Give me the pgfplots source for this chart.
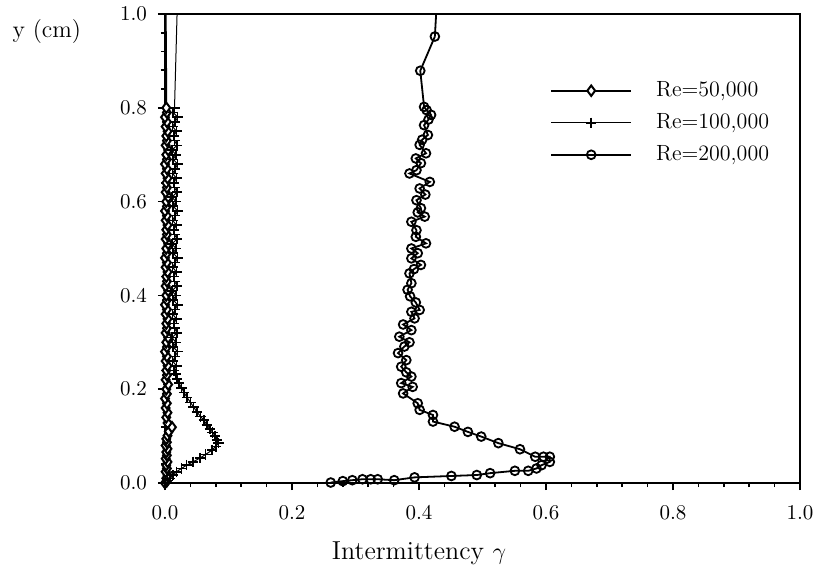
\documentclass[border=0pt]{standalone}
\usepackage{pgfplots}
\pgfplotsset{compat=1.18}

% Re = 50,000 (diamonds)
\pgfplotstableread{
x y
0.000 0.000
0.003 0.004
0.002 0.010
0.004 0.017
0.001 0.024
0.003 0.031
0.002 0.038
0.004 0.045
0.001 0.052
0.003 0.059
0.002 0.066
0.004 0.073
0.001 0.080
0.003 0.087
0.002 0.094
0.004 0.101
0.006 0.110
0.011 0.119
0.004 0.128
0.002 0.140
0.004 0.150
0.001 0.160
0.003 0.170
0.000 0.180
0.003 0.190
0.002 0.200
0.005 0.210
0.001 0.220
0.003 0.230
0.002 0.240
0.004 0.250
0.001 0.260
0.003 0.270
0.000 0.280
0.003 0.290
0.002 0.300
0.005 0.310
0.001 0.320
0.003 0.330
0.002 0.340
0.004 0.350
0.001 0.360
0.003 0.370
0.000 0.380
0.003 0.390
0.002 0.400
0.005 0.410
0.001 0.420
0.003 0.430
0.002 0.440
0.004 0.450
0.001 0.460
0.003 0.470
0.000 0.480
0.003 0.490
0.002 0.500
0.005 0.510
0.001 0.520
0.003 0.530
0.002 0.540
0.004 0.550
0.001 0.560
0.003 0.570
0.000 0.580
0.003 0.590
0.002 0.600
0.005 0.610
0.001 0.620
0.003 0.630
0.002 0.640
0.004 0.650
0.001 0.660
0.003 0.670
0.000 0.680
0.003 0.690
0.002 0.700
0.005 0.710
0.001 0.720
0.003 0.730
0.002 0.740
0.004 0.750
0.001 0.760
0.003 0.770
0.000 0.780
0.003 0.790
0.002 0.800
}\relow

% Re = 100,000 (plus)
\pgfplotstableread{
x y
0.000 0.000
0.004 0.005
0.008 0.010
0.013 0.017
0.018 0.024
0.026 0.031
0.034 0.038
0.044 0.045
0.055 0.053
0.064 0.061
0.074 0.070
0.080 0.078
0.084 0.085
0.082 0.092
0.079 0.100
0.075 0.108
0.071 0.115
0.066 0.124
0.061 0.134
0.056 0.142
0.050 0.152
0.045 0.162
0.040 0.172
0.035 0.182
0.030 0.193
0.026 0.203
0.022 0.213
0.019 0.222
0.017 0.232
0.014 0.240
0.018 0.250
0.012 0.260
0.016 0.270
0.020 0.280
0.013 0.290
0.017 0.300
0.011 0.310
0.019 0.320
0.015 0.330
0.014 0.340
0.018 0.350
0.012 0.360
0.016 0.370
0.020 0.380
0.013 0.390
0.017 0.400
0.011 0.410
0.019 0.420
0.015 0.430
0.014 0.440
0.018 0.450
0.012 0.460
0.016 0.470
0.020 0.480
0.013 0.490
0.017 0.500
0.011 0.510
0.019 0.520
0.015 0.530
0.014 0.540
0.018 0.550
0.012 0.560
0.016 0.570
0.020 0.580
0.013 0.590
0.017 0.600
0.011 0.610
0.019 0.620
0.015 0.630
0.014 0.640
0.018 0.650
0.012 0.660
0.016 0.670
0.020 0.680
0.013 0.690
0.017 0.700
0.011 0.710
0.019 0.720
0.015 0.730
0.014 0.740
0.018 0.750
0.012 0.760
0.016 0.770
0.020 0.780
0.013 0.790
0.015 0.800
}\rehigh

% Re = 200,000 (circles)
\pgfplotstableread{
x y
0.261 0.001
0.280 0.004
0.295 0.006
0.311 0.008
0.324 0.008
0.335 0.008
0.361 0.006
0.393 0.012
0.451 0.015
0.491 0.017
0.512 0.021
0.551 0.026
0.572 0.026
0.585 0.031
0.593 0.038
0.606 0.045
0.606 0.056
0.596 0.056
0.583 0.056
0.559 0.072
0.525 0.085
0.498 0.099
0.477 0.109
0.456 0.120
0.422 0.131
0.422 0.145
0.401 0.156
0.398 0.170
0.375 0.191
0.390 0.205
0.372 0.213
0.388 0.227
0.380 0.236
0.372 0.248
0.380 0.262
0.367 0.277
0.377 0.291
0.385 0.300
0.369 0.312
0.388 0.326
0.375 0.338
0.393 0.351
0.388 0.365
0.401 0.369
0.395 0.385
0.386 0.398
0.382 0.412
0.388 0.426
0.385 0.447
0.392 0.456
0.403 0.465
0.388 0.479
0.398 0.490
0.388 0.500
0.411 0.511
0.395 0.525
0.396 0.539
0.388 0.557
0.409 0.568
0.398 0.577
0.403 0.586
0.396 0.603
0.410 0.615
0.401 0.628
0.417 0.642
0.385 0.660
0.396 0.667
0.403 0.682
0.395 0.692
0.411 0.703
0.401 0.721
0.405 0.732
0.414 0.742
0.408 0.763
0.415 0.775
0.419 0.785
0.412 0.795
0.408 0.802
0.402 0.879
0.425 0.952
}\reveryhigh

\begin{document}
\begin{tikzpicture}
\begin{axis}[
    scale only axis,
    width=317.5pt, height=234.5pt,
    xmin=0, xmax=1, ymin=0, ymax=1,
    xtick={0,0.2,0.4,0.6,0.8,1.0},
    ytick={0,0.2,0.4,0.6,0.8,1.0},
    xticklabels={0.0,0.2,0.4,0.6,0.8,1.0},
    yticklabels={0.0,0.2,0.4,0.6,0.8,1.0},
    minor tick num=4,
    tick align=outside,
    xtick pos=bottom, ytick pos=left,
    major tick length=3.5pt, minor tick length=2pt,
    every tick/.style={black, line width=0.8pt},
    axis line style={line width=1.2pt},
    tick label style={font=\fontsize{10.5}{12}\selectfont},
    xticklabel style={yshift=-4pt},
    yticklabel style={xshift=-2pt},
    xlabel={Intermittency $\gamma$},
    xlabel style={at={(rel axis cs:0.40,-0.15)}, anchor=center, font=\fontsize{13}{15}\selectfont},
    ylabel={y (cm)},
    ylabel style={rotate=-90, at={(rel axis cs:-0.186,0.962)}, anchor=center, font=\fontsize{12}{14}\selectfont},
    legend style={draw=none, fill=none, at={(rel axis cs:0.606,0.865)}, anchor=north west,
        inner sep=0pt, font=\fontsize{11}{13}\selectfont, row sep=3pt,
        /tikz/every odd column/.append style={column sep=10pt}},
    legend cell align=left,
    legend image code/.code={\draw[mark repeat=2,mark phase=2,#1] plot coordinates {(0pt,0pt) (20pt,0pt) (40pt,0pt)};},
]
\addplot[black, line width=1pt, mark=diamond*, mark size=2.6pt,
    mark options={fill=white, line width=1pt}] table {\relow};
\addlegendentry{Re=50,000}
\addplot[black, line width=0.5pt, mark=+, mark size=2.6pt,
    mark options={line width=0.8pt}] table {\rehigh};
\addlegendentry{Re=100,000}
\addplot[black, line width=0.9pt, mark=o, mark size=2.2pt,
    mark options={fill=white, line width=0.9pt}] table {\reveryhigh};
\addlegendentry{Re=200,000}
\addplot[black, line width=1pt, forget plot] coordinates {(0.002,0.800) (0.001,1.000)};
\addplot[black, line width=0.5pt, forget plot] coordinates {(0.015,0.800) (0.019,1.000)};
\addplot[black, line width=0.9pt, forget plot] coordinates {(0.425,0.952) (0.427,1.000)};
\end{axis}
\pgfresetboundingbox
\path ([shift={(-82.5pt,-51pt)}]current axis.south west) rectangle ++(412.5pt,292.5pt);
\end{tikzpicture}
\end{document}
